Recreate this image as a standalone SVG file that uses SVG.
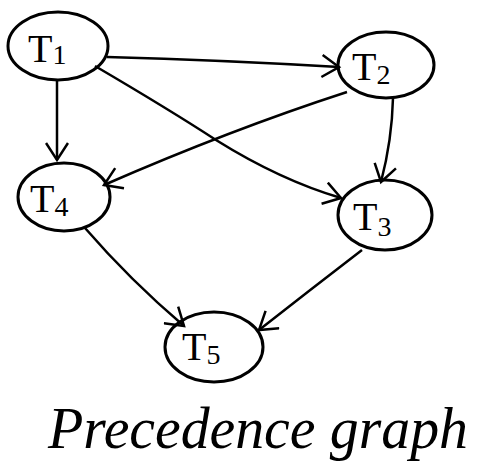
<svg xmlns="http://www.w3.org/2000/svg" width="488" height="471" viewBox="0 0 488 471">
<style>
.node ellipse{fill:none;stroke:#000;stroke-width:3}
.lbl{font-family:"Liberation Serif",serif;font-size:40px;fill:#000}
.sub{font-size:28px}
.edge{fill:none;stroke:#000;stroke-width:2.5;marker-end:url(#arr)}
.title{font-family:"Liberation Serif",serif;font-style:italic;font-size:60px;fill:#000}
</style>
<defs>
<marker id="arr" markerUnits="userSpaceOnUse" viewBox="-20 -12 24 24" refX="0" refY="0" markerWidth="24" markerHeight="24" orient="auto">
<path d="M-17,-11 L0,0 L-17,11" fill="none" stroke="#000" stroke-width="2.5"/>
</marker>
</defs>
<rect width="488" height="471" fill="#fff"/>
<g id="edges">
<path class="edge" d="M107,57 Q220,60 339,67"/>
<path class="edge" d="M57,80 L57,160"/>
<path class="edge" d="M95,66 Q170,110 216,140 Q280,180 341,198"/>
<path class="edge" d="M347,92 Q230,130 104,185"/>
<path class="edge" d="M393,98 Q392,140 381,182"/>
<path class="edge" d="M85,228 Q130,280 184,326"/>
<path class="edge" d="M362,250 Q310,290 259,330"/>
</g>
<g id="T1" class="node"><ellipse cx="58" cy="46" rx="50" ry="34"/><text class="lbl" x="28" y="62">T<tspan class="sub" dy="2">1</tspan></text></g>
<g id="T2" class="node"><ellipse cx="386" cy="65" rx="48" ry="33"/><text class="lbl" x="352" y="80">T<tspan class="sub" dy="4">2</tspan></text></g>
<g id="T3" class="node"><ellipse cx="385" cy="215" rx="47" ry="35"/><text class="lbl" x="353" y="230">T<tspan class="sub" dy="6">3</tspan></text></g>
<g id="T4" class="node"><ellipse cx="64" cy="197" rx="46" ry="34"/><text class="lbl" x="30" y="212">T<tspan class="sub" dy="4">4</tspan></text></g>
<g id="T5" class="node"><ellipse cx="214" cy="347" rx="49" ry="35"/><text class="lbl" x="182" y="360">T<tspan class="sub" dy="4">5</tspan></text></g>
<text class="title" x="48" y="448" textLength="420" lengthAdjust="spacingAndGlyphs">Precedence graph</text>
</svg>
